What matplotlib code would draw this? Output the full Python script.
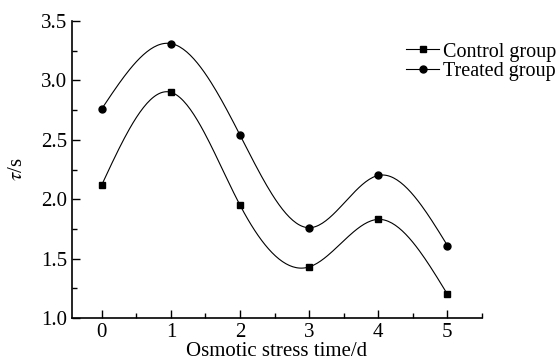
import numpy as np
import matplotlib
matplotlib.use("Agg")
import matplotlib.pyplot as plt
from matplotlib.ticker import MultipleLocator

plt.rcParams['font.family'] = ['Liberation Serif', 'DejaVu Serif']
plt.rcParams['mathtext.fontset'] = 'stix'

days = [0, 1, 2, 3, 4, 5]
control = [2.12, 2.90, 1.95, 1.43, 1.83, 1.20]
treated = [2.76, 3.31, 2.54, 1.76, 2.20, 1.61]


def spline(x, y, n=200):
    # natural cubic spline, like Origin's smooth connect
    x = np.asarray(x, float)
    y = np.asarray(y, float)
    k = len(x)
    h = np.diff(x)
    A = np.zeros((k, k))
    b = np.zeros(k)
    A[0, 0] = A[-1, -1] = 1
    for i in range(1, k - 1):
        A[i, i - 1] = h[i - 1]
        A[i, i] = 2 * (h[i - 1] + h[i])
        A[i, i + 1] = h[i]
        b[i] = 3 * ((y[i + 1] - y[i]) / h[i] - (y[i] - y[i - 1]) / h[i - 1])
    c = np.linalg.solve(A, b)
    xs = np.linspace(x[0], x[-1], n)
    ys = np.empty_like(xs)
    for j, t in enumerate(xs):
        i = min(np.searchsorted(x, t, side='right') - 1, k - 2)
        dx = t - x[i]
        bi = (y[i + 1] - y[i]) / h[i] - h[i] * (2 * c[i] + c[i + 1]) / 3
        di = (c[i + 1] - c[i]) / (3 * h[i])
        ys[j] = y[i] + bi * dx + c[i] * dx ** 2 + di * dx ** 3
    return xs, ys


fig = plt.figure(figsize=(5.6, 3.61), dpi=100)
ax = fig.add_axes([72 / 560, 1 - 318 / 361, 410 / 560, 297 / 361])

for vals, mk, lab in [(control, 's', 'Control group'), (treated, 'o', 'Treated group')]:
    xs, ys = spline(days, vals)
    ax.plot(xs, ys, color='k', lw=0.8)
    ax.plot(days, vals, ls='none', marker=mk, color='k', ms=5)
    ax.plot([], [], color='k', lw=0.8, marker=mk, ms=5, label=lab)

ax.set_xlim(-0.43, 5.5)
ax.set_ylim(1.0, 3.5)
ax.xaxis.set_major_locator(MultipleLocator(1))
ax.xaxis.set_minor_locator(MultipleLocator(0.5))
ax.yaxis.set_major_locator(MultipleLocator(0.5))
ax.yaxis.set_minor_locator(MultipleLocator(0.25))
ax.yaxis.set_major_formatter(matplotlib.ticker.FormatStrFormatter('%.1f'))
ax.tick_params(which='both', direction='in', labelsize=15, width=1)
ax.tick_params(which='major', length=6)
ax.tick_params(which='minor', length=3.5)
for s in ['top', 'right']:
    ax.spines[s].set_visible(False)
for s in ['left', 'bottom']:
    ax.spines[s].set_linewidth(1.2)

ax.set_xlabel('Osmotic stress time/d', fontsize=15, labelpad=0)
ax.set_ylabel(r'$\tau$/s', fontsize=15, labelpad=10)

ax.legend(loc='upper right', bbox_to_anchor=(1.2, 0.955), frameon=False, fontsize=14.5,
          labelspacing=0.0, handlelength=1.6, handletextpad=0.2, borderaxespad=0)

fig.savefig('out.png', dpi=100)
